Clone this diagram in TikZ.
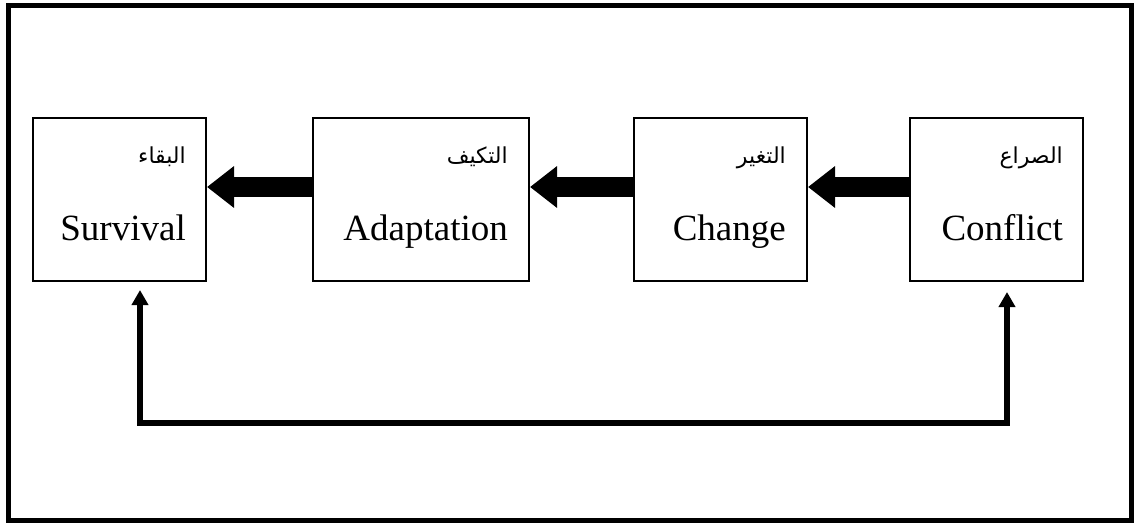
\documentclass[tikz,border=0pt]{standalone}
\usepackage{fontspec}
\setmainfont{Liberation Serif}
\newfontfamily\arabicfont[Script=Arabic]{DejaVu Sans}
\TeXXeTstate=1
\usetikzlibrary{arrows.meta}
\begin{document}
\begin{tikzpicture}[x=1pt,y=-1pt,
  box/.style={draw, line width=2pt, minimum height=163pt, inner sep=0pt},
  en/.style={font=\fontsize{37}{44}\selectfont, anchor=base east, inner sep=0pt},
  ar/.style={font=\arabicfont\fontsize{22}{26}\selectfont, anchor=base east, inner sep=0pt},
  bigarrow/.style={line width=20pt, -{Triangle[width=40pt,length=27pt]}},
  looparrow/.style={line width=6pt, line join=miter, {Triangle[width=16pt,length=15pt]}-{Triangle[width=16pt,length=15pt]}}]
\useasboundingbox (0,0) rectangle (1134,524);
\node[draw, line width=5pt, minimum width=1123pt, minimum height=514pt, inner sep=0pt] (frame) at (569.5,263) {};

\node[box, minimum width=173pt] (surv) at (119.5,199.5) {};
\node[box, minimum width=216pt] (adapt) at (421,199.5) {};
\node[box, minimum width=173pt] (change) at (720.5,199.5) {};
\node[box, minimum width=173pt] (conf) at (996.5,199.5) {};

\node[en] (survE) at (186,240) {Survival};
\node[ar] (survA) at (186,163) {\beginR البقاء\endR};
\node[en] (adaptE) at (508,240) {Adaptation};
\node[ar] (adaptA) at (508,163) {\beginR التكيف\endR};
\node[en] (changeE) at (786,240) {Change};
\node[ar] (changeA) at (786,163) {\beginR التغير\endR};
\node[en] (confE) at (1063,240) {Conflict};
\node[ar] (confA) at (1063,163) {\beginR الصراع\endR};

\draw[bigarrow] ([yshift=12.5pt]adapt.west) -- ([yshift=12.5pt]surv.east);
\draw[bigarrow] ([yshift=12.5pt]change.west) -- ([yshift=12.5pt]adapt.east);
\draw[bigarrow] ([yshift=12.5pt]conf.west) -- ([yshift=12.5pt]change.east);

\coordinate (br) at (1007,423);
\coordinate (bl) at (140,423);
\draw[looparrow] ([xshift=10.5pt,yshift=-10pt]conf.south) -- (br) -- (bl) -- ([xshift=20.5pt,yshift=-8pt]surv.south);
\end{tikzpicture}
\end{document}
